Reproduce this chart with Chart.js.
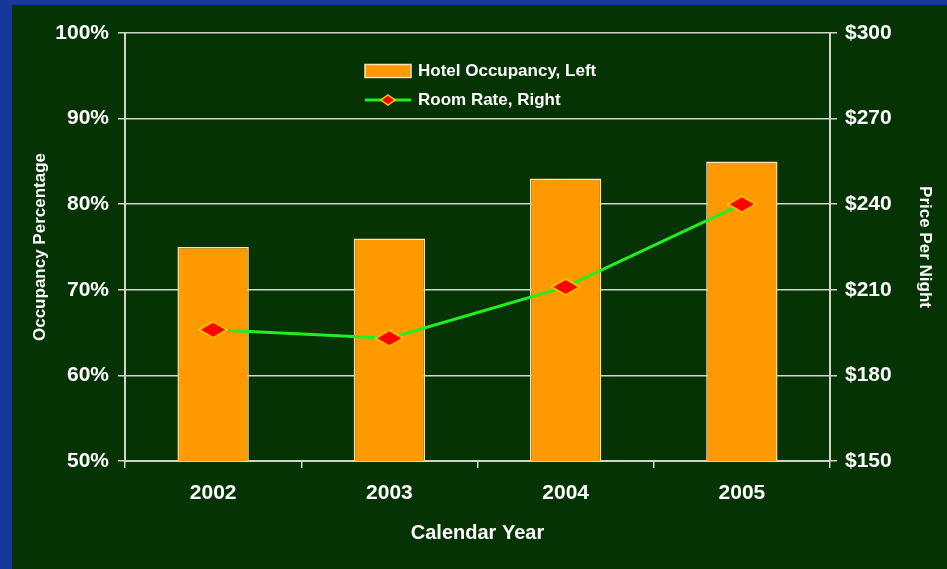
<!DOCTYPE html>
<html>
<head>
<meta charset="utf-8">
<script src="https://cdn.jsdelivr.net/npm/chart.js@4.4.0/dist/chart.umd.min.js"></script>
<style>
  html, body { margin: 0; padding: 0; background: #18379b; }
  #wrap { position: absolute; left: 12px; top: 5px; width: 935px; height: 564px; background: #053304; }
</style>
</head>
<body>
<div id="wrap"><canvas id="myChart" width="935" height="564"></canvas></div>
<script>
const years = ['2002', '2003', '2004', '2005'];
const occupancy = [75, 76, 83, 85];       // percent, left axis
const roomRate = [196, 193, 211, 240];    // dollars, right axis

const FONT = 'Liberation Sans, Arial, sans-serif';
const GRID = '#d2d4c8';

// flattened red diamond used as the point marker
function makeDiamond(w, h) {
    const c = document.createElement('canvas');
    c.width = w + 4;
    c.height = h + 4;
    const g = c.getContext('2d');
    const cx = c.width / 2, cy = c.height / 2;
    g.beginPath();
    g.moveTo(cx, cy - h / 2);
    g.lineTo(cx + w / 2, cy);
    g.lineTo(cx, cy + h / 2);
    g.lineTo(cx - w / 2, cy);
    g.closePath();
    g.fillStyle = '#ff0000';
    g.fill();
    g.lineWidth = 1.5;
    g.strokeStyle = '#ffcc00';
    g.stroke();
    return c;
}
const bigDiamond = makeDiamond(28, 16);
const smallDiamond = makeDiamond(14, 10);

// legend drawn inside the plot, stacked like the original
const insideLegend = {
    id: 'insideLegend',
    afterDraw(chart) {
        const { ctx, chartArea } = chart;
        const x = chartArea.left + 240;
        const y1 = chartArea.top + 38;
        const y2 = chartArea.top + 67;
        ctx.save();
        ctx.fillStyle = '#ff9900';
        ctx.fillRect(x, y1 - 6.5, 46, 13);
        ctx.strokeStyle = '#ffe3b8';
        ctx.lineWidth = 1.5;
        ctx.strokeRect(x, y1 - 6.5, 46, 13);

        ctx.strokeStyle = '#22ee22';
        ctx.lineWidth = 3;
        ctx.beginPath();
        ctx.moveTo(x, y2);
        ctx.lineTo(x + 46, y2);
        ctx.stroke();
        ctx.drawImage(smallDiamond, x + 23 - smallDiamond.width / 2, y2 - smallDiamond.height / 2);

        ctx.fillStyle = '#ffffff';
        ctx.font = 'bold 17px ' + FONT;
        ctx.textBaseline = 'middle';
        ctx.fillText('Hotel Occupancy, Left', x + 53, y1);
        ctx.fillText('Room Rate, Right', x + 53, y2);
        ctx.restore();
    }
};

const ctx = document.getElementById('myChart').getContext('2d');
const myChart = new Chart(ctx, {
    type: 'bar',
    data: {
        labels: years,
        datasets: [{
            type: 'bar',
            label: 'Hotel Occupancy, Left',
            data: occupancy,
            yAxisID: 'y',
            backgroundColor: '#ff9900',
            borderColor: '#ffe3b8',
            borderWidth: { top: 1.5, left: 1.5, right: 1.5, bottom: 0 },
            borderSkipped: 'bottom',
            barPercentage: 0.405,
            categoryPercentage: 1,
            order: 2
        }, {
            type: 'line',
            label: 'Room Rate, Right',
            data: roomRate,
            yAxisID: 'y1',
            borderColor: '#22ee22',
            borderWidth: 3,
            pointStyle: bigDiamond,
            pointRadius: 10,
            tension: 0,
            order: 1
        }]
    },
    options: {
        responsive: false,
        animation: false,
        devicePixelRatio: 1,
        layout: { padding: { top: 28, left: 0, right: 0, bottom: 0 } },
        plugins: {
            legend: { display: false },
            tooltip: { enabled: false }
        },
        scales: {
            x: {
                offset: true,
                afterFit: (scale) => { scale.height = 108; },
                grid: { drawOnChartArea: false, color: GRID, tickLength: 7, lineWidth: 1.5 },
                border: { color: GRID, width: 2 },
                ticks: { color: '#ffffff', padding: 13, font: { family: FONT, size: 21, weight: 'bold' } },
                title: {
                    display: true,
                    text: 'Calendar Year',
                    color: '#ffffff',
                    padding: { top: 0, bottom: 24 },
                    font: { family: FONT, size: 20, weight: 'bold' }
                }
            },
            y: {
                position: 'left',
                min: 50,
                max: 100,
                afterFit: (scale) => { scale.width = 113; },
                grid: { color: GRID, tickLength: 7, lineWidth: 1.5 },
                border: { color: GRID, width: 2 },
                ticks: {
                    stepSize: 10,
                    color: '#ffffff',
                    padding: 9,
                    font: { family: FONT, size: 21, weight: 'bold' },
                    callback: (v) => v + '%'
                },
                title: {
                    display: true,
                    text: 'Occupancy Percentage',
                    color: '#ffffff',
                    padding: { top: 18, bottom: 0 },
                    font: { family: FONT, size: 17, weight: 'bold' }
                }
            },
            y1: {
                position: 'right',
                min: 150,
                max: 300,
                afterFit: (scale) => { scale.width = 117; },
                grid: { drawOnChartArea: false, color: GRID, tickLength: 7, lineWidth: 1.5 },
                border: { color: GRID, width: 2 },
                ticks: {
                    stepSize: 30,
                    color: '#ffffff',
                    padding: 8,
                    font: { family: FONT, size: 21, weight: 'bold' },
                    callback: (v) => '$' + v
                },
                title: {
                    display: true,
                    text: 'Price Per Night',
                    color: '#ffffff',
                    padding: { top: 12, bottom: 0 },
                    font: { family: FONT, size: 17, weight: 'bold' }
                }
            }
        }
    },
    plugins: [insideLegend]
});
</script>
</body>
</html>
